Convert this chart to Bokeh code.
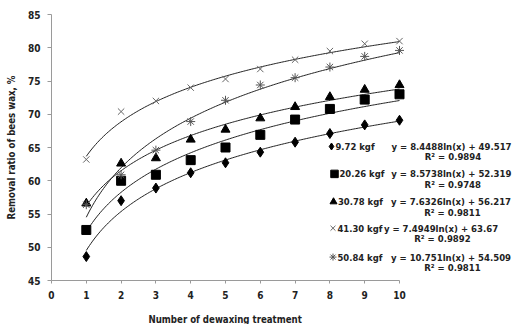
import numpy as np
from bokeh.plotting import figure
from bokeh.models import Label, FixedTicker, Title
from bokeh.embed import file_html
from bokeh.resources import INLINE

# ---- data ----
treatments = [1, 2, 3, 4, 5, 6, 7, 8, 9, 10]
s_972 = [48.6, 57.0, 58.9, 61.2, 62.7, 64.3, 65.8, 67.1, 68.4, 69.1]
s_2026 = [52.6, 60.0, 60.9, 63.1, 65.0, 66.9, 69.2, 70.8, 72.2, 73.0]
s_3078 = [56.6, 62.6, 63.4, 66.2, 67.7, 69.4, 71.1, 72.6, 73.7, 74.4]
s_4130 = [63.2, 70.4, 72.0, 74.0, 75.3, 76.8, 78.2, 79.5, 80.6, 81.0]
s_5084 = [56.4, 60.9, 64.6, 68.9, 72.1, 74.4, 75.5, 77.1, 78.7, 79.6]
series_names = ["9.72 kgf", "20.26 kgf", "30.78 kgf", "41.30 kgf", "50.84 kgf"]
slopes = [8.4488, 8.5738, 7.6326, 7.4949, 10.751]
intercepts = [49.517, 52.319, 56.217, 63.67, 54.509]
r2_values = ["0.9894", "0.9748", "0.9811", "0.9892", "0.9811"]
eq_texts = ["y = 8.4488ln(x)  + 49.517", "y = 8.5738ln(x)  + 52.319",
            "y = 7.6326ln(x)  + 56.217", "y = 7.4949ln(x)  + 63.67",
            "y = 10.751ln(x)  + 54.509"]
x_ticks = [0, 1, 2, 3, 4, 5, 6, 7, 8, 9, 10]
y_ticks = [45, 50, 55, 60, 65, 70, 75, 80, 85]

FONT = "DejaVu Sans Condensed"
TXT = "#222222"

# frame: x=0 at px 51, x=10 at px 399, frame runs to the right edge (516)
X_END = 10 + (516 - 399) / 34.8

p = figure(width=516, height=324, x_range=(0, X_END), y_range=(45, 85),
           output_backend="svg", toolbar_location=None,
           min_border_left=51, min_border_right=0, min_border_top=14,
           min_border_bottom=43)
p.outline_line_color = None
p.xgrid.visible = False
p.ygrid.visible = False
p.background_fill_color = "white"
p.border_fill_color = "white"

for ax in (p.xaxis[0], p.yaxis[0]):
    ax.axis_line_color = "#9a9a9a"
    ax.major_tick_line_color = "#9a9a9a"
    ax.minor_tick_line_color = None
    ax.major_label_text_font = FONT
    ax.major_label_text_font_style = "bold"
    ax.major_label_text_font_size = "10px"
    ax.major_label_text_color = TXT
    ax.axis_label_text_font = FONT
    ax.axis_label_text_font_style = "bold"
    ax.axis_label_text_font_size = "9.6px"
    ax.axis_label_text_color = TXT

p.xaxis.ticker = FixedTicker(ticks=x_ticks)
p.xaxis.bounds = (0, 10)
p.yaxis.ticker = FixedTicker(ticks=y_ticks)
p.xaxis.major_tick_out = 3
p.xaxis.major_tick_in = 0
p.yaxis.major_tick_out = 4
p.yaxis.major_tick_in = 0
p.xaxis.major_label_standoff = 7
p.yaxis.major_label_standoff = 7
p.yaxis.axis_label = "Removal ratio of bees wax, %"
p.yaxis.axis_label_standoff = 8
# a blank, tiny axis label only reserves a little space below the tick labels
p.xaxis.axis_label = " "
p.xaxis.axis_label_text_font_size = "1px"
p.xaxis.axis_label_standoff = 6

xtitle = Title(text="Number of dewaxing treatment", align="left", offset=97,
               vertical_align="bottom", text_font=FONT, text_font_style="bold",
               text_font_size="9.6px", text_color=TXT, standoff=0)
p.add_layout(xtitle, "below")

# trend lines (from the displayed logarithmic fits)
xs = np.linspace(1, 10, 200)
for a, b in zip(slopes, intercepts):
    p.line(xs, a * np.log(xs) + b, line_color="#222222", line_width=1)

# points
p.scatter(treatments, s_972, marker="diamond", size=10, fill_color="black", line_color="black")
p.scatter(treatments, s_2026, marker="square", size=9, fill_color="black", line_color="black")
p.scatter(treatments, s_3078, marker="triangle", size=9, fill_color="black", line_color="black")
p.scatter(treatments, s_4130, marker="x", size=9, line_color="#666666", line_width=1)
p.scatter(treatments, s_5084, marker="asterisk", size=9, line_color="#555555", line_width=1)

# legend at the right
def px2x(px):
    return (px - 51) / 34.8

def py2y(py):
    return 85 - (py - 14) / 6.675

rows = [146.5, 174, 202, 228.5, 257.5]
mark_x = [331, 334, 333, 332.5, 332.5]
name_left = [335, 339, 337.5, 337, 337]
eq_center = [452.5, 452.3, 452, 442, 452]
markers = ["diamond", "square", "triangle", "x", "asterisk"]
msize = [7, 7.5, 7, 7, 7]
fills = ["black", "black", "black", None, None]
lcols = ["black", "black", "black", "#666666", "#555555"]
for i in range(5):
    yy = py2y(rows[i])
    p.scatter([px2x(mark_x[i])], [yy], marker=markers[i], size=msize[i],
              fill_color=fills[i], line_color=lcols[i])
    p.add_layout(Label(x=px2x(name_left[i]), y=yy, text=series_names[i],
                       text_font=FONT, text_font_style="bold",
                       text_font_size="9.4px", text_color=TXT,
                       text_baseline="middle", text_align="left"))
    p.add_layout(Label(x=px2x(eq_center[i]), y=yy, text=eq_texts[i],
                       text_font=FONT, text_font_style="bold",
                       text_font_size="9.5px", text_color=TXT,
                       text_baseline="middle", text_align="center"))
    p.add_layout(Label(x=px2x(eq_center[i]), y=py2y(rows[i] + 10.5),
                       text="R\u00b2 = " + r2_values[i],
                       text_font=FONT, text_font_style="bold",
                       text_font_size="9.5px", text_color=TXT,
                       text_baseline="middle", text_align="center"))

open("out.html", "w").write(file_html(p, INLINE))
